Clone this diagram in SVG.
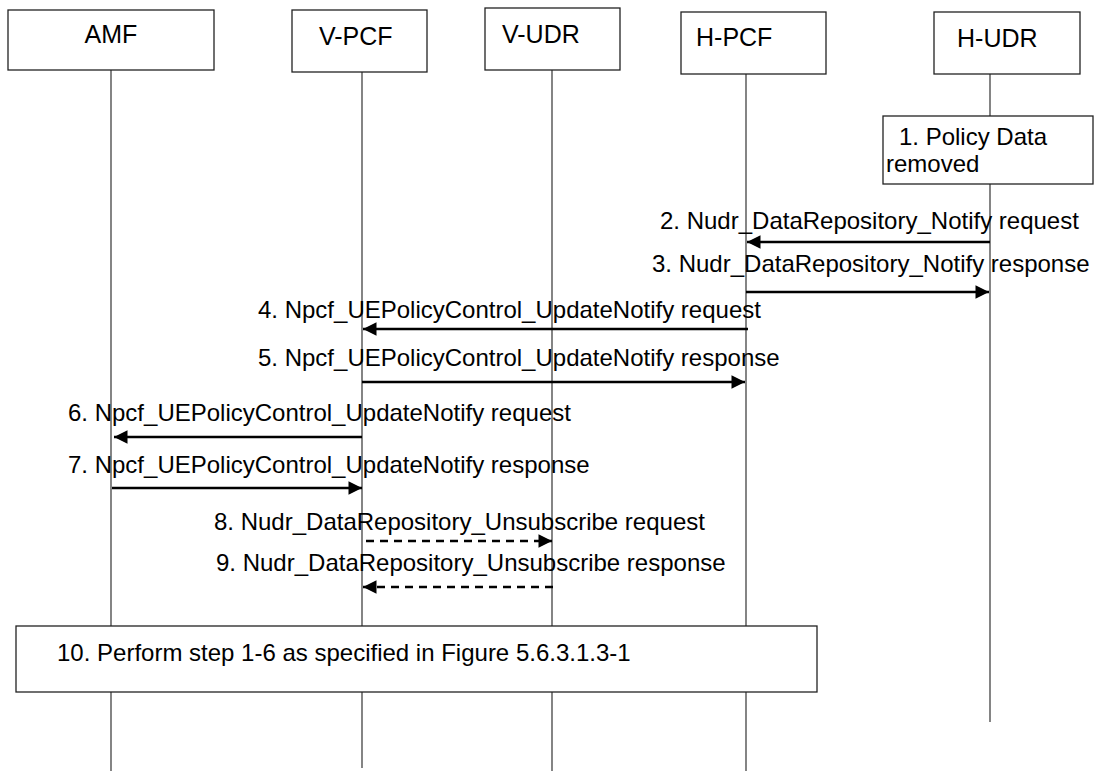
<svg xmlns="http://www.w3.org/2000/svg" width="1094" height="771" viewBox="0 0 1094 771">
<style>
  .box { fill: #fff; stroke: #222; stroke-width: 1.3; }
  .life { stroke: #333; stroke-width: 1.2; fill: none; }
  .hdr { font-family: "Liberation Sans", Arial, sans-serif; font-size: 25px; fill: #000; }
  .lbl { font-family: "Liberation Sans", Arial, sans-serif; font-size: 24px; fill: #000; }
  .msg { stroke: #000; stroke-width: 2.5; fill: none; }
  .dash { stroke-dasharray: 8 6; }
</style>
<defs>
  <marker id="ah" viewBox="0 0 10 10" refX="10" refY="5" markerWidth="6.4" markerHeight="5.4" markerUnits="strokeWidth" orient="auto">
    <path d="M0,0 L10,5 L0,10 Z" fill="#000"/>
  </marker>
</defs>
<rect width="1094" height="771" fill="#fff"/>

<g id="lifelines">
  <line class="life" x1="111" y1="70" x2="111" y2="771"/>
  <line class="life" x1="362" y1="72" x2="362" y2="768"/>
  <line class="life" x1="552" y1="70" x2="552" y2="771"/>
  <line class="life" x1="746" y1="74" x2="746" y2="771"/>
  <line class="life" x1="990" y1="74" x2="990" y2="722"/>
</g>

<g id="node-amf">
  <rect class="box" x="8" y="10" width="206" height="60"/>
  <text class="hdr" x="111" y="43" text-anchor="middle">AMF</text>
</g>
<g id="node-vpcf">
  <rect class="box" x="292" y="10" width="135" height="62"/>
  <text class="hdr" x="319" y="45">V-PCF</text>
</g>
<g id="node-vudr">
  <rect class="box" x="485" y="8" width="135" height="62"/>
  <text class="hdr" x="502" y="43">V-UDR</text>
</g>
<g id="node-hpcf">
  <rect class="box" x="681" y="12" width="145" height="62"/>
  <text class="hdr" x="696" y="46">H-PCF</text>
</g>
<g id="node-hudr">
  <rect class="box" x="934" y="12" width="146" height="62"/>
  <text class="hdr" x="957" y="47">H-UDR</text>
</g>

<g id="step1">
  <rect class="box" x="883" y="116" width="210" height="68"/>
  <text class="lbl" x="899" y="145">1. Policy Data</text>
  <text class="lbl" x="886" y="172">removed</text>
</g>

<g id="connectors">
  <line class="msg" x1="990" y1="242" x2="747" y2="242" marker-end="url(#ah)"/>
  <line class="msg" x1="746" y1="292" x2="989" y2="292" marker-end="url(#ah)"/>
  <line class="msg" x1="748" y1="329" x2="363" y2="329" marker-end="url(#ah)"/>
  <line class="msg" x1="362" y1="382" x2="745" y2="382" marker-end="url(#ah)"/>
  <line class="msg" x1="362" y1="437" x2="114" y2="437" marker-end="url(#ah)"/>
  <line class="msg" x1="112" y1="488" x2="362" y2="488" marker-end="url(#ah)"/>
  <line class="msg dash" x1="366" y1="541" x2="552" y2="541" marker-end="url(#ah)"/>
  <line class="msg dash" x1="553" y1="587" x2="363" y2="587" marker-end="url(#ah)"/>
</g>

<g id="labels">
  <text class="lbl" x="660" y="229">2. Nudr_DataRepository_Notify request</text>
  <text class="lbl" x="652" y="272">3. Nudr_DataRepository_Notify response</text>
  <text class="lbl" x="258" y="318">4. Npcf_UEPolicyControl_UpdateNotify request</text>
  <text class="lbl" x="258" y="366">5. Npcf_UEPolicyControl_UpdateNotify response</text>
  <text class="lbl" x="68" y="421">6. Npcf_UEPolicyControl_UpdateNotify request</text>
  <text class="lbl" x="68" y="473">7. Npcf_UEPolicyControl_UpdateNotify response</text>
  <text class="lbl" x="214" y="530">8. Nudr_DataRepository_Unsubscribe request</text>
  <text class="lbl" x="216" y="571">9. Nudr_DataRepository_Unsubscribe response</text>
</g>

<g id="step10">
  <rect class="box" x="16" y="626" width="801" height="66"/>
  <text class="lbl" x="57" y="661">10. Perform step 1-6 as specified in Figure 5.6.3.1.3-1</text>
</g>
</svg>
